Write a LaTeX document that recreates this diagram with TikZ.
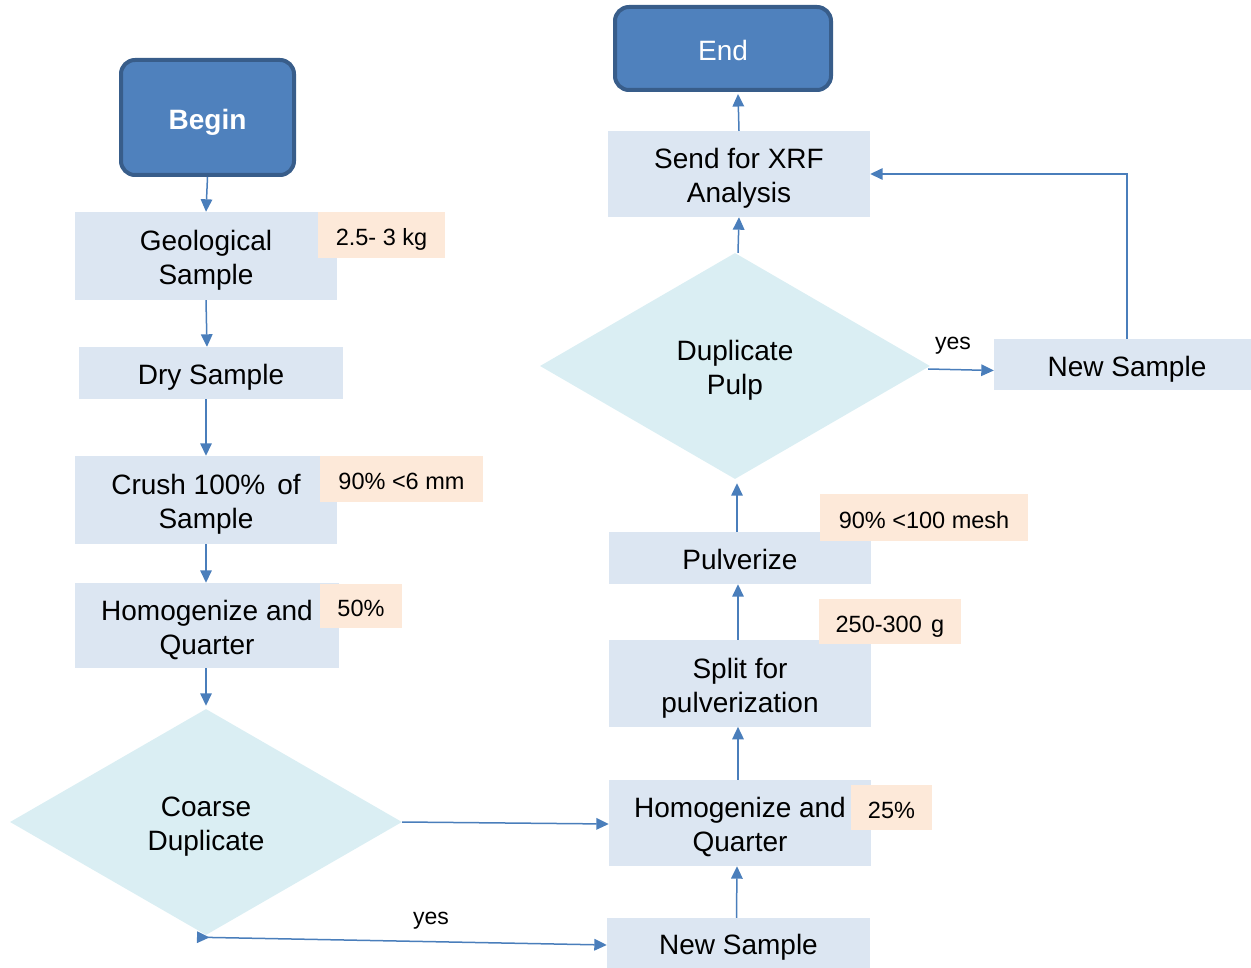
\documentclass[tikz,border=0pt]{standalone}
\usepackage{fontspec}
\setmainfont{Liberation Sans}
\usetikzlibrary{shapes.geometric,arrows.meta,calc}
\definecolor{boxfill}{HTML}{DCE6F2}
\definecolor{notefill}{HTML}{FDE9D9}
\definecolor{decfill}{HTML}{DAEEF3}
\definecolor{termfill}{HTML}{4F81BD}
\definecolor{termline}{HTML}{385D8A}
\definecolor{flow}{HTML}{4A7EBB}
% text set a little below the geometric centre of its box
\newcommand\tx[1]{\raisebox{0pt}[\dimexpr\height+10pt\relax]{\begin{tabular}{@{}c@{}}#1\end{tabular}}}
\begin{document}
\begin{tikzpicture}[x=1pt,y=-1pt,
  stepbox/.style={rectangle,fill=boxfill,inner sep=0pt,align=center,
    font=\fontsize{28}{34}\selectfont},
  note/.style={rectangle,fill=notefill,inner sep=0pt,
    font=\fontsize{23.5}{28}\selectfont},
  decision/.style={diamond,fill=decfill,inner sep=0pt,align=center,
    minimum width=392pt,minimum height=226pt,
    font=\fontsize{28}{34}\selectfont},
  terminal/.style={rectangle,rounded corners=14pt,fill=termfill,draw=termline,
    line width=4pt,text=white,inner sep=0pt},
  flowline/.style={draw=flow,line width=1.5pt,-{Triangle[length=12.5pt,width=11.5pt]}},
  tag/.style={font=\fontsize{23}{28}\selectfont,inner sep=0pt}]
\useasboundingbox (0,0) rectangle (1251,968);

% terminals
\node[terminal,minimum width=173pt,minimum height=115pt,
  font=\fontsize{28}{34}\selectfont\bfseries] (begin) at (207.5,117.5) {\tx{Begin}};
\node[terminal,minimum width=216pt,minimum height=83pt,
  font=\fontsize{28}{34}\selectfont] (end) at (723,48.5) {\tx{End}};

% left column
\node[stepbox,minimum width=262pt,minimum height=88pt] (geo) at (206,256) {\tx{Geological\\Sample}};
\node[stepbox,minimum width=264pt,minimum height=52pt] (dry) at (211,373) {\tx{Dry Sample}};
\node[stepbox,minimum width=262pt,minimum height=88pt] (crush) at (206,500) {\tx{Crush 100\%\hspace{0.15em} of\\Sample}};
\node[stepbox,minimum width=264pt,minimum height=85pt] (homl) at (207,625.5) {\tx{Homogenize and\\Quarter}};
\node[decision] (cd) at (206,822) {\tx{Coarse\\Duplicate}};

\node[note,minimum width=127pt,minimum height=46pt] (n1) at (381.5,235) {\tx{2.5- 3 kg}};
\node[note,minimum width=163pt,minimum height=46pt] (n2) at (401.5,479) {\tx{90\% <6 mm}};
\node[note,minimum width=82pt,minimum height=44pt] (n3) at (361,606) {\tx{50\%}};

% right column
\node[stepbox,minimum width=263pt,minimum height=50pt] (ns1) at (738.5,943) {\tx{New Sample}};
\node[stepbox,minimum width=262pt,minimum height=86pt] (homr) at (740,823) {\tx{Homogenize and\\Quarter}};
\node[stepbox,minimum width=262pt,minimum height=87pt] (split) at (740,683.5) {\tx{Split for\\pulverization}};
\node[stepbox,minimum width=262pt,minimum height=52pt] (pulv) at (740,558) {\tx{Pulverize}};
\node[decision,minimum width=390pt] (dp) at (735,366) {\tx{Duplicate\\Pulp}};
\node[stepbox,minimum width=262pt,minimum height=86pt] (send) at (739,174) {\tx{Send for XRF\\Analysis}};
\node[stepbox,minimum width=266pt,minimum height=51pt] (ns2) at (1127,364.5) {\tx{New Sample}};

\node[note,minimum width=81pt,minimum height=45pt] (n4) at (891.5,807.5) {\tx{25\%}};
\node[note,minimum width=142pt,minimum height=45pt] (n5) at (890,621.5) {\tx{250-300\hspace{0.4em}g}};
\node[note,minimum width=208pt,minimum height=47pt] (n6) at (924,517.5) {\tx{90\% <100 mesh}};

% connectors, left column
\draw[flowline] (begin.south) -- (geo.north);
\draw[flowline] (geo.south) -- ($(dry.north)+(-4,0)$);
\draw[flowline] ($(dry.south)+(-5,0)$) -- (crush.north);
\draw[flowline] (crush.south) -- (homl.north -| crush.south);
\draw[flowline] ($(homl.south)+(-1,0)$) -- ($(cd.north)+(0,-3)$);

% connectors across
\draw[flowline] (cd.east) -- ($(homr.west)+(0,1)$);
\draw[flowline,{Triangle[reversed,length=12.5pt,width=11.5pt]}-{Triangle[length=12.5pt,width=11.5pt]}]
  ($(cd.south)+(-9,2)$) -- ($(ns1.west)+(0,2)$);
\node[tag] (yes1) at (431,921) {yes};

% connectors, right column
\draw[flowline] ($(ns1.north)+(-2,0)$) -- ($(homr.south)+(-3,0)$);
\draw[flowline] ($(homr.north)+(-2,0)$) -- ($(split.north)+(-2,87)$);
\draw[flowline] ($(split.north)+(-2,0)$) -- ($(pulv.south)+(-2,0)$);
\draw[flowline] ($(pulv.north)+(-3,0)$) -- ($(dp.south)+(2,4)$);
\draw[flowline] ($(dp.north)+(3,0)$) -- (send.south);
\draw[flowline] (send.north) -- ($(end.south)+(15,2)$);
\draw[flowline] ($(dp.east)+(-2,3)$) -- ($(ns2.west)+(0,6)$);
\node[tag] (yes2) at (953,346) {yes};
\draw[flowline] (ns2.north) |- (send.east);
\end{tikzpicture}
\end{document}
